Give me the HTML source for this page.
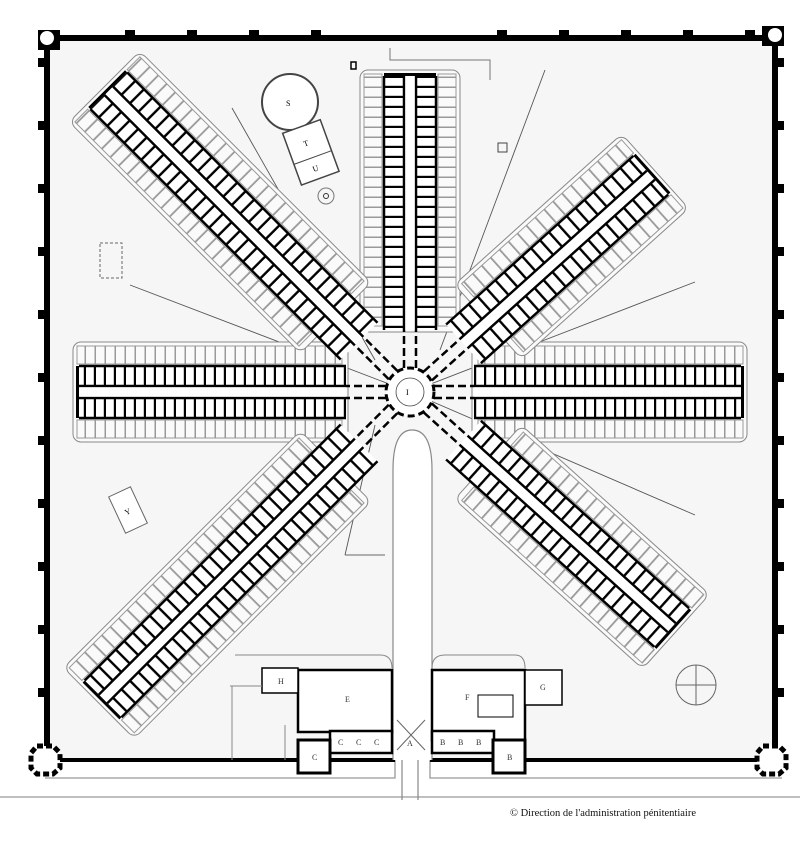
<!DOCTYPE html>
<html><head><meta charset="utf-8">
<style>
html,body{margin:0;padding:0;background:#fff;}
svg{display:block;}
text{font-family:"Liberation Serif",serif;}
</style></head>
<body>
<svg id="s" width="800" height="845" viewBox="0 0 800 845" xmlns="http://www.w3.org/2000/svg">
<defs>
<pattern id="pIn" width="10" height="40" patternUnits="userSpaceOnUse">
<rect x="4" y="0" width="2.2" height="40" fill="#000"/>
</pattern>
<pattern id="pInD" width="12" height="40" patternUnits="userSpaceOnUse">
<rect x="5" y="0" width="2.4" height="40" fill="#000"/>
</pattern>
<pattern id="pOut" width="10" height="40" patternUnits="userSpaceOnUse">
<rect x="4" y="0" width="1.5" height="40" fill="#999"/>
</pattern>
<pattern id="pOutD" width="12" height="40" patternUnits="userSpaceOnUse">
<rect x="5" y="0" width="1.8" height="40" fill="#999"/>
</pattern>
</defs>
<rect width="800" height="845" fill="#fff"/>
<rect x="48" y="40" width="726" height="720" fill="#f6f6f6"/>
<path d="M45 778 H395 V760 M430 760 V778 H782" stroke="#999" stroke-width="1.3" fill="none"/>
<line x1="0" y1="797" x2="800" y2="797" stroke="#999" stroke-width="1.3"/>
<path d="M47 760 V38 H775 V760" stroke="#000" stroke-width="6" fill="none"/>
<path d="M47 760 H395 M430 760 H772" stroke="#000" stroke-width="4" fill="none"/>
<rect x="38" y="30" width="22" height="20" fill="#000"/>
<circle cx="47" cy="38" r="7" fill="#fff"/>
<rect x="762" y="26" width="22" height="20" fill="#000"/>
<circle cx="775" cy="35" r="7" fill="#fff"/>
<g id="butt" fill="#000"></g>
<polygon points="37,746 53,746 60,753 60,768 53,774 37,774 31,768 31,753" fill="#fff" stroke="#000" stroke-width="5" stroke-dasharray="6 3"/>
<polygon points="763,746 779,746 786,753 786,768 779,774 763,774 757,768 757,753" fill="#fff" stroke="#000" stroke-width="5" stroke-dasharray="6 3"/>

<path d="M393 760 V470 Q393 430 412 430 Q432 430 432 470 V760" fill="#fff" stroke="#888" stroke-width="1.2"/>
<path d="M402 760 V800 M418 760 V800" stroke="#888" stroke-width="1.2"/>
<path d="M235 655 H380 Q392 655 392 668 M432 668 Q432 655 445 655 H515 Q525 655 525 668" stroke="#888" stroke-width="1" fill="none"/>
<g stroke="#555" stroke-width="0.9" fill="none">
<line x1="410" y1="392" x2="130" y2="285"/>
<line x1="410" y1="392" x2="695" y2="282"/>
<line x1="410" y1="392" x2="695" y2="515"/>
<line x1="375" y1="360" x2="232" y2="108"/>
<line x1="440" y1="350" x2="545" y2="70"/>
<line x1="375" y1="425" x2="345" y2="555"/>
</g>
<g fill="none" stroke="#666" stroke-width="1">
<path d="M345 555 H385" />
<circle cx="696" cy="685" r="20"/><path d="M676 685 H716 M696 665 V705"/>
</g>

<g id="wings"></g>

<circle cx="410" cy="392" r="24" fill="#fff" stroke="#000" stroke-width="3" stroke-dasharray="7 4"/>
<circle cx="410" cy="392" r="14" fill="none" stroke="#444" stroke-width="0.8"/>
<text x="406" y="395" font-size="8">I</text>

<circle cx="290" cy="102" r="28" fill="#fff" stroke="#444" stroke-width="2"/>
<text x="286" y="106" font-size="8">S</text>
<g transform="rotate(-20 310 150)">
<rect x="290" y="125" width="40" height="55" fill="#fff" stroke="#444" stroke-width="1.5"/>
<line x1="290" y1="158" x2="330" y2="158" stroke="#444"/>
<text x="306" y="145" font-size="8">T</text><text x="306" y="172" font-size="8">U</text>
</g>
<circle cx="326" cy="196" r="8" fill="none" stroke="#777"/><circle cx="326" cy="196" r="2.5" fill="none" stroke="#333"/>
<rect x="100" y="243" width="22" height="35" fill="none" stroke="#666" stroke-dasharray="3 2"/>
<g transform="rotate(-25 128 510)"><rect x="116" y="490" width="24" height="40" fill="#fff" stroke="#666"/><text x="124" y="514" font-size="8">Y</text></g>
<rect x="498" y="143" width="9" height="9" fill="none" stroke="#444"/>
<rect x="351" y="62" width="5" height="7" fill="none" stroke="#000" stroke-width="1.5"/>
<path d="M390 48 V60 H490 V80" stroke="#777" fill="none"/>

<g stroke="#000" fill="#fff">
<rect x="298" y="670" width="94" height="62" stroke-width="2.5"/>
<rect x="262" y="668" width="36" height="25" stroke-width="1.5"/>
<rect x="330" y="731" width="62" height="22" stroke-width="2.5"/>
<rect x="298" y="740" width="32" height="33" stroke-width="3"/>
<rect x="432" y="670" width="93" height="70" stroke-width="2.5"/>
<rect x="525" y="670" width="37" height="35" stroke-width="1.5"/>
<rect x="432" y="731" width="62" height="22" stroke-width="2.5"/>
<rect x="493" y="740" width="32" height="33" stroke-width="3"/>
<rect x="478" y="695" width="35" height="22" stroke-width="1"/>
</g>
<path d="M230 686 H262 M232 686 V760 M285 725 V760" stroke="#888" fill="none"/>
<path d="M397 720 L425 750 M425 720 L397 750" stroke="#666"/>
<g font-size="8" fill="#333">
<text x="345" y="702">E</text><text x="465" y="700">F</text><text x="540" y="690">G</text><text x="278" y="684">H</text>
<text x="312" y="760">C</text><text x="507" y="760">B</text>
<text x="338" y="745">C</text><text x="356" y="745">C</text><text x="374" y="745">C</text>
<text x="440" y="745">B</text><text x="458" y="745">B</text><text x="476" y="745">B</text>
<text x="407" y="746">A</text>
</g>
<text x="510" y="816" font-family="Liberation Sans, sans-serif" font-size="10.5" fill="#111">© Direction de l'administration pénitentiaire</text>

<script>
(function(){
var NS="http://www.w3.org/2000/svg";
var cx=410,cy=392;
var W=document.getElementById('wings');
function el(p,tag,a){var e=document.createElementNS(NS,tag);for(var k in a)e.setAttribute(k,a[k]);p.appendChild(e);return e;}
// angle, d1, diag, outer start, inner start
var wings=[[-90,322,0,60,62],[0,337,0,62,64],[180,337,0,62,64],[-135,432,1,105,72],[135,440,1,105,72],[-42,330,1,105,72],[42,358,1,105,72]];
wings.forEach(function(w){
 var a=w[0],d1=w[1],diag=w[2],so=w[3],si=w[4];
 var g=el(W,'g',{transform:'translate('+cx+' '+cy+') rotate('+a+')'});
 var H=50, o1=28, i0=6, i1=26;
 el(g,'rect',{x:so,y:-H,width:d1-so,height:2*H,rx:8,fill:'#fafafa',stroke:'#888','stroke-width':1});
 [-1,1].forEach(function(sg){
  var yo=sg<0?-H+4:o1;
  el(g,'rect',{x:so+6,y:yo,width:d1-so-10,height:H-o1-4,fill:diag?'url(#pOutD)':'url(#pOut)',stroke:'#999','stroke-width':1});
  var yi=sg<0?-i1:i0;
  el(g,'rect',{x:si,y:yi,width:d1-si-6,height:i1-i0,fill:'#fff'});
  el(g,'rect',{x:si,y:yi,width:d1-si-6,height:i1-i0,fill:diag?'url(#pInD)':'url(#pIn)'});
  el(g,'line',{x1:si,y1:sg*i0,x2:d1-6,y2:sg*i0,stroke:'#000','stroke-width':2.5});
  el(g,'line',{x1:si,y1:sg*i1,x2:d1-6,y2:sg*i1,stroke:'#000','stroke-width':2.5});
  el(g,'line',{x1:24,y1:sg*i0,x2:si,y2:sg*i0,stroke:'#000','stroke-width':2.5,'stroke-dasharray':'8 4'});
 });
 el(g,'rect',{x:si,y:-i0+1.3,width:d1-si-6,height:2*i0-2.6,fill:'#fff'});
 el(g,'rect',{x:d1-6,y:-i1,width:3,height:2*i1,fill:'#000'});
});
var B=document.getElementById('butt');
for(var x=130;x<760;x+=62){ if(x>370&&x<450)continue; el(B,'rect',{x:x-5,y:30,width:10,height:8});}
for(var y=58;y<750;y+=63){ el(B,'rect',{x:38,y:y,width:7,height:9}); el(B,'rect',{x:777,y:y,width:7,height:9});}
})();
</script>
</svg>
</body></html>
